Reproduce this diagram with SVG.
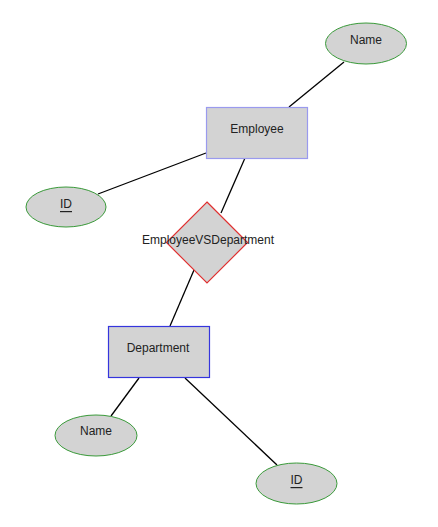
<svg xmlns="http://www.w3.org/2000/svg" width="438" height="527" viewBox="0 0 438 527">
<style>
text{font-family:"Liberation Sans",Arial,sans-serif;font-size:12px;fill:#222;text-anchor:middle;dominant-baseline:central}
.attr{fill:#d3d3d3;stroke:#3a9a3a;stroke-width:1}
.ent{fill:#d3d3d3;stroke-width:1.2}
.rel{fill:#d3d3d3;stroke:#e03030;stroke-width:1.2}
.conn line{stroke:#000;stroke-width:1.3}
</style>
<rect width="438" height="527" fill="#fff"/>
<g class="conn" id="connectors">
<line x1="344" y1="62" x2="289" y2="107"/>
<line x1="98" y1="194" x2="206" y2="153"/>
<line x1="245" y1="158" x2="221" y2="213"/>
<line x1="194" y1="270" x2="170" y2="326"/>
<line x1="139" y1="378" x2="111" y2="416"/>
<line x1="185" y1="378" x2="277" y2="465"/>
</g>
<g id="emp_name"><ellipse class="attr" cx="366" cy="43.5" rx="40.5" ry="20.5"/><text x="366" y="40">Name</text></g>
<g id="emp_id"><ellipse class="attr" cx="66" cy="207" rx="40" ry="20"/><text x="66" y="204" text-decoration="underline">ID</text></g>
<g id="employee"><rect class="ent" x="206.5" y="107.5" width="101" height="51" stroke="#9a9aee"/><text x="257" y="128.5">Employee</text></g>
<g id="relationship"><polygon class="rel" points="207,202 247.5,242.5 207,283 166.5,242.5"/><text x="208" y="239.5">EmployeeVSDepartment</text></g>
<g id="department"><rect class="ent" x="108.5" y="326.5" width="101" height="51" stroke="#3535dd"/><text x="158" y="347.5">Department</text></g>
<g id="dept_name"><ellipse class="attr" cx="96" cy="435.5" rx="41" ry="20.5"/><text x="96" y="431">Name</text></g>
<g id="dept_id"><ellipse class="attr" cx="296.5" cy="483.5" rx="40.5" ry="20.5"/><text x="296.5" y="480" text-decoration="underline">ID</text></g>
</svg>
